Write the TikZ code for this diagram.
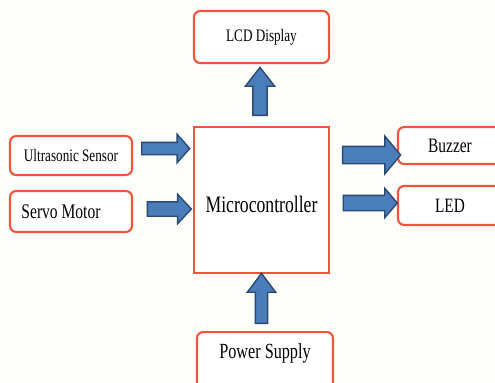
\documentclass[tikz,border=0pt]{standalone}
\usepackage{fontspec}
\setmainfont{Liberation Serif}[FakeStretch=0.75]
\usepackage{xcolor}
\usepackage{tikz}
\usetikzlibrary{positioning,shapes.arrows,calc}

\definecolor{boxred}{RGB}{240,84,60}
\definecolor{arrowfill}{RGB}{74,126,187}
\definecolor{arrowedge}{RGB}{44,74,112}
\definecolor{paper}{RGB}{253,253,250}

\tikzset{
  block/.style={draw=boxred, line width=1.2pt, rounded corners=3.5pt, inner sep=0pt, fill=white},
  blockarrow/.style={single arrow, draw=arrowedge, fill=arrowfill, line width=0.8pt, single arrow head indent=0pt},
}

\begin{document}
\begin{tikzpicture}[x=0.02cm, y=-0.02cm]

% Canvas
\useasboundingbox (0,0) rectangle (495,383);
\clip (0,0) rectangle (495,383);
\fill[paper] (0,0) rectangle (495,383);

% Blocks
\node[block, minimum width=2.7cm, minimum height=1.04cm, font=\fontsize{10}{12}\selectfont] (lcd) at (261.5,37) {LCD Display};
\node[block, rounded corners=0pt, minimum width=2.7cm, minimum height=2.92cm, text height=14pt, text depth=0pt, font=\fontsize{13.4}{16}\selectfont] (mc) at (261.5,200) {Microcontroller};
\node[block, minimum width=2.44cm, minimum height=0.78cm, font=\fontsize{10}{12}\selectfont] (us) at (71,155.5) {Ultrasonic Sensor};
\node[block, minimum width=2.44cm, minimum height=0.82cm, font=\fontsize{11.8}{14}\selectfont] (sm) at (71,211.5) {Servo Motor\hspace*{0.4cm}};
\node[block, minimum width=2.08cm, minimum height=0.74cm, font=\fontsize{11.7}{14}\selectfont] (bz) at (450,145.5) {Buzzer};
\node[block, minimum width=2.08cm, minimum height=0.78cm, font=\fontsize{11.6}{14}\selectfont] (led) at (450,205.5) {LED};
\node[block, anchor=north, minimum width=2.72cm, text height=0.52cm, text depth=1cm, font=\fontsize{12.3}{15}\selectfont] (ps) at (265,331) {Power Supply};

% Inputs
\node[blockarrow, inner sep=0.11cm, minimum height=0.96cm, single arrow head extend=0.16cm, single arrow tip angle=97] (a-us) at ($(us.east)!.5!(us.east -| mc.west)+(0,-7)$) {};
\node[blockarrow, inner sep=0.13cm, minimum height=0.88cm, single arrow head extend=0.15cm, single arrow tip angle=94] (a-sm) at ($(sm.east)!.5!(sm.east -| mc.west)+(3,-2.5)$) {};

% Outputs
\node[blockarrow, inner sep=0.16cm, minimum height=1.16cm, single arrow head extend=0.2cm, single arrow tip angle=100] (a-bz) at ($(mc.east |- bz.west)!.5!(bz.west)+(4.5,9.5)$) {};
\node[blockarrow, inner sep=0.14cm, minimum height=1.08cm, single arrow head extend=0.14cm, single arrow tip angle=99] (a-led) at ($(mc.east |- led.west)!.5!(led.west)+(3.5,-2.5)$) {};
\node[blockarrow, shape border rotate=90, inner sep=0.13cm, minimum height=0.96cm, single arrow head extend=0.15cm, single arrow tip angle=76] (a-lcd) at ($(lcd.south)!.5!(mc.north)+(-1.5,1)$) {};

% Power
\node[blockarrow, shape border rotate=90, inner sep=0.11cm, minimum height=1cm, single arrow head extend=0.16cm, single arrow tip angle=74] (a-ps) at ($(mc.south)!.5!(ps.north)+(-1.75,0)$) {};

\end{tikzpicture}
\end{document}
